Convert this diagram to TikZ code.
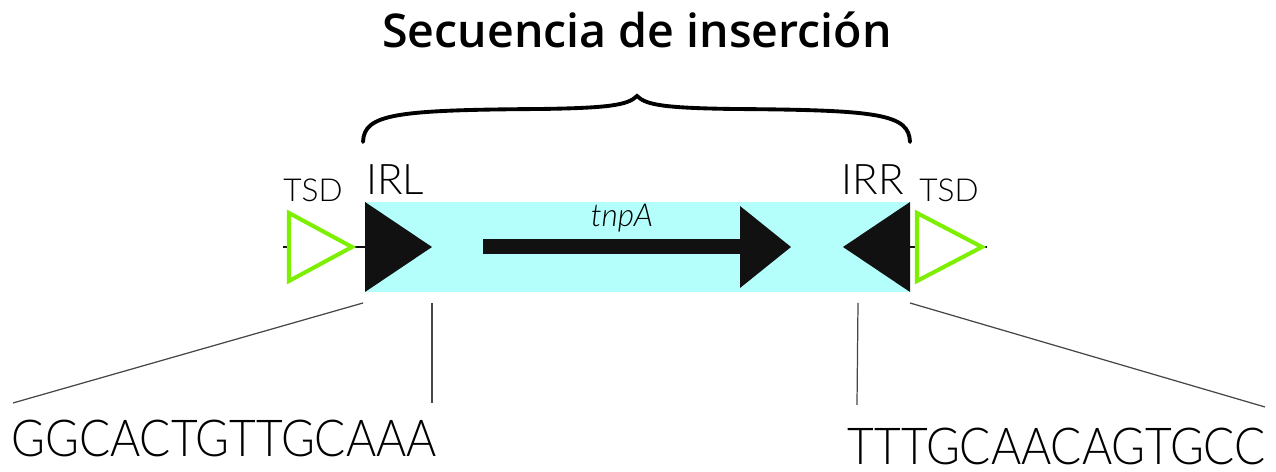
\documentclass[tikz,border=0pt]{standalone}
\usepackage{fontspec}
\setmainfont{Lato}[UprightFont={* Light},ItalicFont={* Light Italic},BoldFont={* Bold}]
\newfontfamily\titlefont{Open Sans}[BoldFont={* Semibold}]
\usetikzlibrary{positioning,calc}
\definecolor{insfill}{RGB}{180,255,252}
\definecolor{tsdgreen}{RGB}{124,240,0}
\definecolor{irblack}{RGB}{17,17,17}
\definecolor{zoomgray}{RGB}{70,70,70}

\begin{document}
\begin{tikzpicture}[x=0.02cm,y=-0.02cm,
    tsd/.style={draw=tsdgreen, fill=white, line width=2.3pt, line join=miter},
    ir/.style={fill=irblack},
    zoomline/.style={draw=zoomgray, line width=0.7pt},
    seq/.style={font=\fontsize{29}{34}\selectfont\addfontfeature{FakeStretch=0.905}, inner sep=0pt},
    lbl/.style={font=\fontsize{24}{28}\selectfont, inner sep=0pt}]
    \useasboundingbox (0,0) rectangle (1276,472);

    % Title
    \node[font=\titlefont\fontsize{26.5}{30}\selectfont\bfseries] (title) at (637,30) {Secuencia de inserción};

    % Brace over the insertion sequence
    \draw[line width=2.2pt, line cap=round]
        (363,142) .. controls (364,114) and (395,110) .. (540,109)
        .. controls (610,108) and (628,105) .. (637,96)
        .. controls (646,105) and (664,108) .. (734,109)
        .. controls (879,110) and (909,114) .. (910,142);

    % Backbone
    \draw[line width=1.4pt, irblack] (283,247) -- (987,247);

    % Insertion box
    \fill[insfill] (365,202) rectangle (910,292);
    \coordinate (ins sw) at (363,303);
    \coordinate (ins se) at (910,303);
    \coordinate (irl in) at (432,303);
    \coordinate (irr in) at (858,303);

    % Inverted repeats
    \fill[ir] (365,202) -- (432,247) -- (365,292) -- cycle;
    \fill[ir] (910,202) -- (843,247) -- (910,292) -- cycle;

    % TSD
    \draw[tsd] (289,213) -- (352,247) -- (289,281) -- cycle;
    \draw[tsd] (917,213) -- (982,247) -- (917,281) -- cycle;

    % tnpA gene
    \fill[ir] (483,239) rectangle (741,254);
    \fill[ir] (740,206) -- (791,247) -- (740,288) -- cycle;
    \node[font=\fontsize{18}{21}\selectfont\itshape, inner sep=0pt] (tnpa) at (622,218) {tnpA};

    % Labels
    \node[lbl] (irl) at (395,180) {IRL};
    \node[lbl] (irr) at (873,180) {IRR};
    \node[font=\fontsize{18}{21}\selectfont, inner sep=0pt] (tsdl) at (313,190) {TSD};
    \node[font=\fontsize{18}{21}\selectfont, inner sep=0pt] (tsdr) at (949,190) {TSD};

    % Sequences
    \node[seq, anchor=base west] (seql) at (11,457) {GGCACTGTTGCAAA};
    \node[seq, anchor=base east] (seqr) at (1266,465) {TTTGCAACAGTGCC};
    \coordinate (seql a) at (13,403);
    \coordinate (seql b) at (432,403);
    \coordinate (seqr a) at (857,405);
    \coordinate (seqr b) at (1265,407);

    % Zoom lines
    \draw[zoomline] (ins sw) -- (seql a);
    \draw[zoomline] (irl in) -- (seql b);
    \draw[zoomline] (irr in) -- (seqr a);
    \draw[zoomline] (ins se) -- (seqr b);
\end{tikzpicture}
\end{document}
